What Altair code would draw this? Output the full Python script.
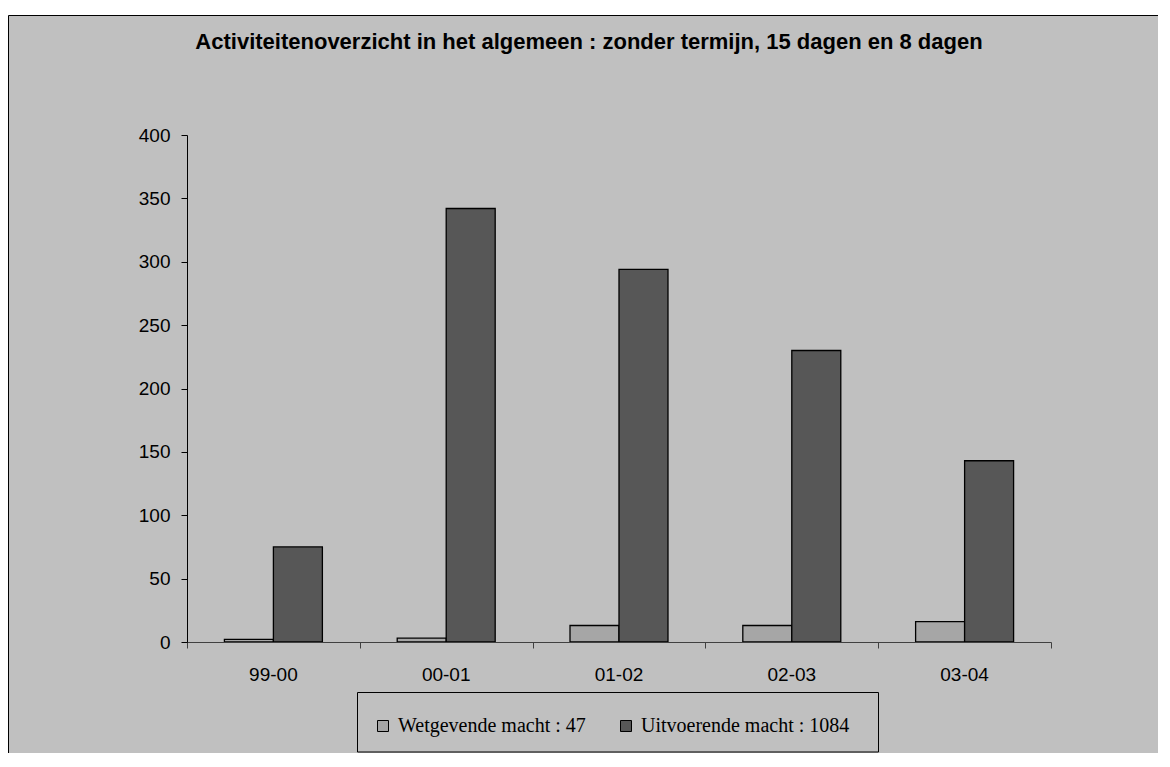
import altair as alt
import pandas as pd

periods = ["99-00", "00-01", "01-02", "02-03", "03-04"]
wetgevende = [2, 3, 13, 13, 16]
uitvoerende = [75, 342, 294, 230, 143]
series = ["Wetgevende macht : 47", "Uitvoerende macht : 1084"]
colors = ["#A6A6A6", "#575757"]
y_ticks = [0, 50, 100, 150, 200, 250, 300, 350, 400]
boundary_ticks = [0, 1, 2, 3, 4, 5]
title_text = "Activiteitenoverzicht in het algemeen : zonder termijn, 15 dagen en 8 dagen"

rows = []
for i, p in enumerate(periods):
    rows.append({"periode": p, "reeks": series[0], "waarde": wetgevende[i], "idx": i + 0.5})
    rows.append({"periode": p, "reeks": series[1], "waarde": uitvoerende[i], "idx": i + 0.5})
df = pd.DataFrame(rows)

W, H = 864, 507
PAD = {"left": 179, "top": 127, "right": 107, "bottom": 111}
BG = "#C0C0C0"

frame = alt.Chart(alt.Data(values=[{}])).mark_rect(
    fill=BG, stroke="black", strokeWidth=1
).encode(
    x=alt.value(-178.5), y=alt.value(-119.5),
    x2=alt.value(W + PAD["right"] + 20), y2=alt.value(H + PAD["bottom"] + 20)
)

legend_box = alt.Chart(alt.Data(values=[{}])).mark_rect(
    fill=BG, stroke="black", strokeWidth=1
).encode(
    x=alt.value(170.5), y=alt.value(557.5), x2=alt.value(691.5), y2=alt.value(617)
)

bars = alt.Chart(df).mark_bar(stroke="black", strokeWidth=1.3, opacity=1).encode(
    x=alt.X(
        "periode:N", sort=periods,
        scale=alt.Scale(paddingInner=0.433, paddingOuter=0.2165),
        axis=alt.Axis(
            title=None, labelAngle=0, ticks=False, domainColor="#404040", domainWidth=1,
            labelFont="Liberation Sans", labelFontSize=19, labelColor="black",
            labelPadding=23, zindex=1,
        ),
    ),
    xOffset=alt.XOffset("reeks:N", sort=series, scale=alt.Scale(paddingInner=0, paddingOuter=0)),
    y=alt.Y(
        "waarde:Q",
        scale=alt.Scale(domain=[0, 400], nice=False),
        axis=alt.Axis(
            values=y_ticks, title=None, grid=False, domainColor="black", tickColor="black",
            tickSize=6, labelFont="Liberation Sans", labelFontSize=19, labelColor="black",
            labelPadding=11, zindex=1,
        ),
    ),
    color=alt.Color(
        "reeks:N", sort=series,
        scale=alt.Scale(domain=series, range=colors),
        legend=alt.Legend(
            title=None, orient="none", legendX=186, legendY=581, direction="horizontal",
            symbolType="square", symbolSize=121, symbolStrokeColor="black",
            symbolStrokeWidth=1, symbolOpacity=1, labelFont="Liberation Serif",
            labelFontSize=20, labelColor="black", labelOffset=5, columnPadding=30,
            padding=0, zindex=1, labelLimit=400,
        ),
    ),
)

ticks_layer = alt.Chart(df).mark_point(opacity=0).encode(
    x=alt.X(
        "idx:Q",
        scale=alt.Scale(domain=[0, 5], nice=False, zero=False),
        axis=alt.Axis(
            orient="bottom", values=boundary_ticks, labels=False, domain=False,
            tickSize=6, tickColor="#404040", title=None, grid=False, zindex=1,
        ),
    )
)

chart = alt.layer(frame, legend_box, bars, ticks_layer).resolve_scale(
    x="independent"
).properties(
    width=W, height=H,
    autosize=alt.AutoSizeParams(type="none"),
    padding=PAD,
    background="white",
    title=alt.TitleParams(
        title_text, font="Liberation Sans", fontSize=22, fontWeight="bold",
        color="black", anchor="middle", dx=-30, offset=-56, baseline="alphabetic",
        zindex=1,
    ),
).configure_view(stroke=None)

chart.save("out.html", embed_options={"renderer": "svg", "actions": False})
